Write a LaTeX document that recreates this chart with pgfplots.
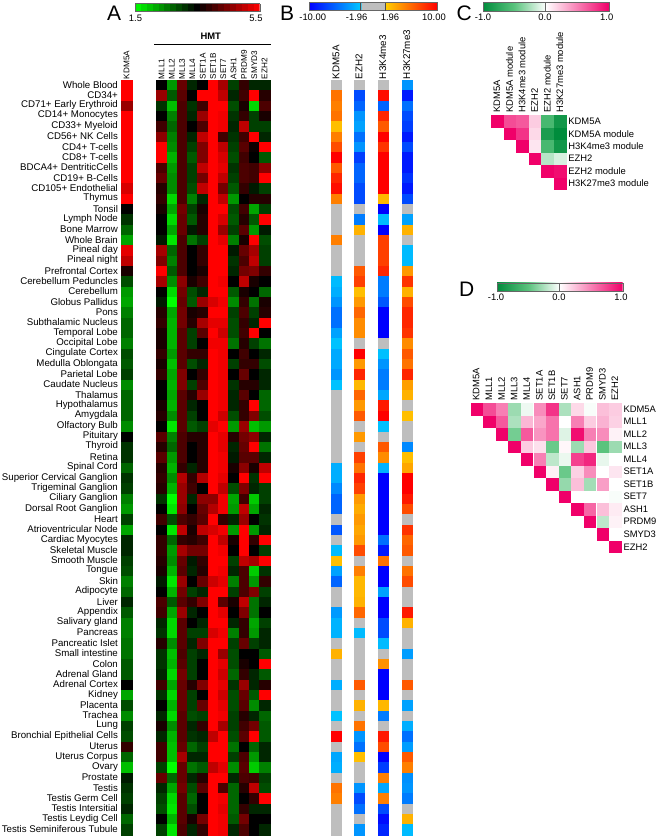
\documentclass[border=0pt]{standalone}
\usepackage{fontspec}
\setmainfont{Liberation Sans}
\usepackage{pgfplots}
\usepackage{pgfplotstable}
\pgfplotsset{compat=1.18}
\pgfplotsset{
  colormap={rg}{rgb255(0)=(0,255,0); rgb255(1)=(0,0,0); rgb255(2)=(255,0,0)},
  colormap={bo}{rgb255(0)=(0,0,255); rgb255(804)=(0,200,255); rgb255(805)=(190,190,190); rgb255(1195)=(190,190,190); rgb255(1196)=(255,205,0); rgb255(2000)=(255,0,0)},
  colormap={gp}{rgb255(0)=(0,140,60); rgb255(1)=(90,195,125); rgb255(2)=(255,255,255); rgb255(4)=(240,0,105)},
  heat/.style={anchor=north west, scale only axis, y dir=reverse,
    axis line style={draw=none}, major tick length=0pt, tick style={draw=none},
    clip=false, ticklabel style={inner sep=0pt, outer sep=0pt}},
  cbar/.style={anchor=north west, scale only axis, hide axis, colorbar horizontal,
    xmin=0, xmax=1, ymin=0, ymax=1},
  cbarst/.style={at={(0,0)}, anchor=south west, scale only axis, xtick=\empty, ytick=\empty,
    axis line style={draw=black!60, line width=0.4pt}},
  cell/.style={scatter, only marks, mark=square*, mark size=#1,
    scatter/use mapped color={draw=mapped color, fill=mapped color},
    mark options={line width=0.1pt}, scatter src=explicit},
}
% Panel A: KDM5A, MLL1, MLL2, MLL3, MLL4, SET1A, SET1B, SET7, ASH1, PRDM9, SMYD3, EZH2
\pgfplotstableread[header=false]{
5.5 3.5 2.3 4.3 3.2 3.5 5.5 4.8 3.0 3.9 3.2 3.2
5.5 4.7 2.8 4.2 3.5 5.5 5.5 5.0 3.2 4.0 5.5 3.8
4.7 3.1 2.0 4.1 3.1 4.0 5.5 5.5 2.9 3.7 1.8 4.1
5.5 3.5 2.5 4.1 3.2 4.7 5.5 5.4 3.1 3.9 3.0 3.7
5.5 4.0 2.7 4.1 3.5 4.1 5.5 5.4 3.2 5.0 3.0 3.0
5.5 4.6 2.5 4.1 3.2 5.0 5.5 4.0 3.1 4.0 5.5 3.2
5.5 5.5 2.4 4.1 3.0 4.5 5.5 5.0 3.0 4.2 3.6 5.5
5.5 5.5 2.1 4.1 2.8 4.5 5.5 5.2 2.9 4.0 3.5 2.8
5.5 4.1 2.3 4.1 3.0 5.0 5.5 5.3 3.1 4.1 4.0 4.6
5.5 4.3 2.4 4.1 3.0 4.4 5.5 5.0 3.0 4.1 4.0 5.5
5.2 3.8 2.4 4.1 2.9 5.0 5.5 4.4 2.8 3.9 3.3 3.0
5.5 3.9 1.8 4.1 2.5 3.2 5.5 5.0 2.3 3.5 3.8 3.8
3.5 3.7 2.2 4.4 3.0 3.7 5.5 5.5 2.9 4.0 2.2 3.0
3.1 3.5 1.8 4.3 2.8 3.8 5.5 5.2 2.8 3.8 2.8 5.5
2.7 3.5 2.2 4.3 3.3 3.8 5.5 4.7 3.0 4.2 2.3 3.3
2.2 3.3 1.7 4.1 2.6 3.0 5.5 5.3 2.5 3.7 5.5 2.9
5.3 4.8 2.7 4.1 3.5 3.9 5.5 5.5 3.3 4.3 4.8 3.0
5.0 4.5 2.5 4.1 3.5 3.9 5.5 5.5 3.1 4.1 5.0 3.0
3.7 5.5 2.8 4.1 3.5 3.7 5.5 5.5 3.2 4.4 4.5 3.9
2.9 4.8 2.4 4.6 3.7 4.0 5.5 5.4 3.5 5.0 3.7 3.5
2.3 3.5 1.8 4.4 2.9 3.2 5.5 5.5 2.8 3.7 3.5 2.7
2.2 3.3 1.5 4.3 2.8 4.7 5.2 5.4 2.4 3.9 2.6 3.7
2.5 3.8 2.2 4.4 3.7 3.8 5.5 5.5 3.0 4.1 3.0 3.8
2.7 3.9 2.1 4.4 3.8 4.8 5.3 5.3 2.9 3.9 3.2 5.5
2.7 3.7 2.1 4.2 3.0 4.2 5.5 5.1 2.9 4.0 5.5 3.5
2.5 3.7 2.1 4.2 3.0 3.5 5.4 5.4 2.6 3.8 3.0 2.6
2.9 3.9 2.3 4.2 3.9 3.9 5.5 5.4 3.5 4.0 3.5 3.2
2.8 3.7 2.0 4.2 2.9 3.2 5.5 5.4 3.0 3.9 3.9 2.9
3.0 3.9 2.2 4.5 3.5 3.9 5.5 5.4 3.5 4.3 3.5 3.2
2.4 3.5 2.1 4.5 3.0 4.1 5.5 5.4 3.1 3.8 3.8 3.2
2.7 3.5 2.2 4.2 3.8 4.7 5.5 5.4 3.2 4.2 3.5 2.7
2.7 3.7 2.1 4.2 3.2 3.5 5.5 5.4 3.2 3.9 5.5 2.7
2.7 3.8 2.4 4.2 3.0 3.5 5.5 5.1 2.9 3.9 4.5 2.9
2.4 3.5 1.7 4.2 2.8 3.0 5.3 5.5 2.3 4.7 2.0 2.3
3.5 4.2 2.5 4.1 3.8 3.8 5.5 5.3 3.8 4.4 4.6 3.2
3.1 3.8 2.7 4.1 3.5 3.8 5.5 5.3 3.2 4.3 5.5 2.6
3.1 4.2 2.3 4.1 3.5 3.8 5.5 5.4 3.3 4.2 4.2 3.2
2.7 3.8 2.1 3.9 3.2 3.8 5.5 5.4 3.7 4.6 3.7 5.0
3.1 3.9 2.4 4.9 3.9 4.9 5.5 5.3 3.5 5.5 3.1 5.5
3.0 3.8 2.1 4.7 4.0 3.5 5.5 5.0 2.9 4.5 3.2 3.0
2.5 3.1 1.5 4.7 3.2 4.6 4.6 5.4 2.2 4.0 1.9 3.0
2.3 3.5 1.7 4.6 3.5 4.3 4.9 5.4 2.3 5.0 2.2 3.2
3.0 4.0 2.9 4.1 3.9 4.2 5.5 3.9 3.2 4.7 3.5 3.1
2.2 3.5 1.7 5.0 3.7 5.0 5.2 5.4 2.3 5.5 2.3 3.2
3.2 3.9 2.7 3.9 3.8 4.0 5.5 5.0 3.7 5.5 3.9 5.5
3.2 3.9 2.3 4.8 4.4 4.4 5.5 5.4 3.5 5.5 3.5 3.0
3.0 3.8 2.4 4.3 3.3 3.9 5.5 5.5 3.0 5.0 4.8 5.5
2.9 3.7 2.1 4.2 3.2 3.8 5.5 5.4 3.2 4.1 1.9 3.1
2.5 3.3 1.7 4.7 3.5 4.3 5.1 5.3 2.5 4.1 2.3 3.9
2.7 3.5 2.1 4.4 3.0 3.2 5.5 5.5 3.0 4.1 4.5 3.0
3.2 4.1 2.8 4.2 3.9 4.5 5.5 4.2 3.7 5.0 2.6 3.2
2.8 4.0 2.2 4.7 3.2 3.5 5.5 5.3 3.5 4.5 2.6 3.5
2.5 3.2 1.8 4.2 3.5 3.2 5.5 5.5 3.2 3.9 2.2 3.0
2.5 3.1 1.8 4.2 3.0 3.0 5.2 5.4 2.5 3.9 2.3 3.2
2.6 3.8 2.4 4.2 3.2 4.5 5.5 5.5 3.0 4.3 3.0 3.2
2.6 3.1 2.0 4.1 3.0 3.2 5.5 4.7 2.9 3.5 3.5 2.8
2.8 3.1 2.1 4.2 3.0 3.5 5.5 5.3 2.9 3.7 3.5 5.5
2.8 3.2 1.8 4.4 3.0 3.5 5.5 5.1 2.7 3.9 3.2 2.8
3.5 4.0 2.2 4.3 3.8 4.5 5.5 5.3 3.1 4.7 3.2 3.8
2.2 3.1 1.8 4.3 3.0 3.5 5.5 5.1 2.9 4.3 2.8 5.5
2.9 3.5 2.1 4.3 3.0 4.3 5.5 5.3 2.9 4.2 2.4 3.2
2.4 3.2 1.8 4.2 2.9 3.0 5.5 5.4 3.0 3.8 3.2 2.7
3.0 3.7 2.4 4.2 3.2 3.9 5.5 4.8 3.0 4.0 4.4 2.8
2.9 3.2 2.1 4.2 3.1 3.2 5.0 5.5 2.9 4.2 5.5 2.8
3.9 4.0 2.0 4.3 2.7 3.0 5.5 5.5 2.6 3.5 2.7 3.2
2.7 4.0 2.0 4.8 3.2 3.2 5.5 5.5 3.0 4.1 2.3 3.2
2.0 3.0 1.5 4.3 2.6 2.8 5.0 5.3 2.4 4.2 1.9 2.5
3.3 4.3 2.7 4.3 3.2 3.8 5.5 5.5 3.2 4.1 4.0 3.0
3.1 3.2 2.2 4.4 2.9 4.2 5.5 4.1 2.7 3.8 5.0 2.9
3.0 3.0 1.8 4.2 2.7 3.5 5.5 5.4 2.7 3.5 3.9 5.5
3.2 2.9 1.7 4.2 2.9 3.5 5.5 5.3 2.7 3.9 3.2 3.2
2.7 3.5 2.1 4.2 3.7 4.4 5.5 5.4 2.8 4.4 3.5 3.5
3.0 3.0 1.7 4.1 3.2 3.9 5.5 5.4 3.2 4.1 3.5 3.2
}\tabA
% Panel B: KDM5A, EZH2, H3K4me3, H3K27me3
\pgfplotstableread[header=false]{
0 0 0 -4
5.5 -7 9.5 -9
5 -6 -6 -5.5
5.5 -4 8.5 -7
2.5 -3.5 6.5 -7.5
5 -5.5 10 -9
7 -4 8 -7
10 -7.5 10 -9
6.5 -6 10 -9
8.5 -6 10 -8
9.5 -7 10 -9
5 -7 2.8 -7
0 0 -10 0
0 -5 -2.5 -3.5
0 3 -10 3
5 0 7.5 0
0 0 7.5 -2.5
0 0 7.5 -2.5
0 6.5 8.5 4
-2.5 7.5 -5 8
-3 2.5 -5 3
-4 4 -6.5 7
-5.5 6 -10 8.5
-5.5 4.5 -10 8.5
-3.5 4.5 -10 8
-2.2 0 0 4.5
-3.2 10 -2.3 6.5
-3.2 4 -4 5.5
-4 8.5 -5 8.5
-2.2 2.8 -5 3.8
0 6 -3.3 3
0 4 9 0
0 6.5 10 2.5
0 0 -2.3 0
0 4 0 0
0 0 6.5 -4.5
0 7.5 4.5 2.5
-3 5.5 -2.8 3.5
-3 8.5 -10 10
-4.5 7.5 -10 10
-6 4 -10 9
-6 3.3 -10 7
0 4 -10 0
-6.5 3.5 -10 8
0 4 -5.5 6
-2.5 7 -9 6.5
2.5 0 5.5 0
-3.5 5 -10 5.5
-6 2.8 -10 7
0 2.8 -3.5 0
0 3 -10 0
-3.8 6 -10 9
-2.8 0 -7 3
-2.8 -2.5 -7 0
0 0 -2.5 0
3 0 0 -3.7
0 0 4.3 0
0 0 -10 0
-3 6.5 -10 6.5
0 0 -10 0
0 3 2.8 -3.5
-2.2 0 -5 0
0 5.5 0 -3
10 -4 9 -5.5
0 -5.5 7 -3.7
-3.3 2.5 -10 6.5
-3 0 -7.5 5
0 0 5 -4.2
5.5 -4 -3.3 -4
5 -7 5 -5
0 -5.5 -7 0
0 0 -9.5 3
0 -4 -8.5 -2.5
}\tabB
% Panel C: column, row, correlation
\pgfplotstableread{
x y v
0 0 1
1 0 .7
2 0 .65
3 0 .2
4 0 -.6
5 0 -.9
1 1 1
2 1 .8
3 1 .15
4 1 -.85
5 1 -1
2 2 1
3 2 .1
4 2 -.6
5 2 -.9
3 3 1
4 3 -.22
5 3 -.12
4 4 1
5 4 .95
5 5 1
}\tabC
% Panel D: column, row, correlation
\pgfplotstableread{
x y v
0 0 1
1 0 .7
2 0 .5
3 0 -.3
4 0 -.05
5 0 .45
6 0 .8
7 0 -.25
8 0 .15
9 0 -.02
10 0 .25
11 0 .2
1 1 1
2 1 .65
3 1 -.25
4 1 .28
5 1 .35
6 1 .55
7 1 0
8 1 .5
9 1 .2
10 1 .3
11 1 .18
2 2 1
3 2 -.42
4 2 .65
5 2 .42
6 2 .55
7 2 -.1
8 2 .95
9 2 .5
10 2 .45
11 2 .05
3 3 1
4 3 .2
5 3 .12
6 3 -.45
7 3 .03
8 3 -.3
9 3 .22
10 3 -.5
11 3 -.3
4 4 1
5 4 .5
6 4 -.2
7 4 -.06
8 4 .75
9 4 .85
10 4 -.07
11 4 0
5 5 1
6 5 .06
7 5 -.45
8 5 .18
9 5 .45
10 5 0
11 5 .1
6 6 1
7 6 -.32
8 6 .25
9 6 -.28
10 6 .38
11 6 0
7 7 1
8 7 0
9 7 0
10 7 0
11 7 -.02
8 8 1
9 8 .6
10 8 .25
11 8 .08
9 9 1
10 9 -.2
11 9 .05
10 10 1
11 11 1
}\tabD
\newcommand{\fs}[1]{\fontsize{#1}{#1}\selectfont}
\begin{document}
\begin{tikzpicture}
\path[use as bounding box] (0,0) rectangle (661pt,-840pt);

% colour bars
\begin{axis}[cbar, at={(135pt,-3.7pt)}, width=124.7pt, height=8pt,
  colormap name=rg, point meta min=1.5, point meta max=5.5, colorbar sampled,
  colorbar style={cbarst, width=124.7pt, height=8pt, samples=22}]
\addplot[draw=none] coordinates {(0,0)(1,1)};
\end{axis}
\begin{axis}[cbar, at={(309.3pt,-2.7pt)}, width=127.7pt, height=8pt,
  colormap name=bo, point meta min=-10, point meta max=10,
  colorbar style={cbarst, width=127.7pt, height=8pt}]
\addplot[draw=none] coordinates {(0,0)(1,1)};
\end{axis}
\draw[black!70, line width=0.5pt] (360.7pt,-2.7pt) -- (360.7pt,-10.7pt) (385.3pt,-2.7pt) -- (385.3pt,-10.7pt);
\begin{axis}[cbar, at={(482.7pt,-2.7pt)}, width=126.3pt, height=8.4pt,
  colormap name=gp, point meta min=-1, point meta max=1,
  colorbar style={cbarst, width=126.3pt, height=8.4pt}]
\addplot[draw=none] coordinates {(0,0)(1,1)};
\end{axis}
\draw[black!60, line width=0.5pt] (545.3pt,-2.7pt) -- (545.3pt,-11.1pt);
\begin{axis}[cbar, at={(496.7pt,-282.7pt)}, width=126pt, height=8.3pt,
  colormap name=gp, point meta min=-1, point meta max=1,
  colorbar style={cbarst, width=126pt, height=8.3pt}]
\addplot[draw=none] coordinates {(0,0)(1,1)};
\end{axis}
\draw[black!60, line width=0.5pt] (559.3pt,-282.7pt) -- (559.3pt,-291pt);

% Panel A, KDM5A
\begin{axis}[heat, at={(121.3pt,-80pt)}, width=10.34pt, height=754.8pt,
  xmin=-0.5, xmax=0.5, ymin=-0.5, ymax=72.5,
  colormap name=rg, point meta min=1.5, point meta max=5.5,
  xtick={0}, xticklabels={KDM5A}, xticklabel pos=upper,
  x tick label style={rotate=90, anchor=west, font=\fs{8.2}, xshift=1pt},
  ytick={0,...,72}, y tick label style={font=\fs{9.7}, anchor=east, xshift=-3.4pt, yshift=0.6pt},
  yticklabels={Whole Blood,CD34+,CD71+ Early Erythroid,CD14+ Monocytes,CD33+ Myeloid,CD56+ NK Cells,CD4+ T-cells,CD8+ T-cells,BDCA4+ DentriticCells,CD19+ B-Cells,CD105+ Endothelial,Thymus,Tonsil,Lymph Node,Bone Marrow,Whole Brain,Pineal day,Pineal night,Prefrontal Cortex,Cerebellum Peduncles,Cerebellum,Globus Pallidus,Pons,Subthalamic Nucleus,Temporal Lobe,Occipital Lobe,Cingulate Cortex,Medulla Oblongata,Parietal Lobe,Caudate Nucleus,Thalamus,Hypothalamus,Amygdala,Olfactory Bulb,Pituitary,Thyroid,Retina,Spinal Cord,Superior Cervical Ganglion,Trigeminal Ganglion,Ciliary Ganglion,Dorsal Root Ganglion,Heart,Atrioventricular Node,Cardiac Myocytes,Skeletal Muscle,Smooth Muscle,Tongue,Skin,Adipocyte,Liver,Appendix,Salivary gland,Pancreas,Pancreatic Islet,Small intestine,Colon,Adrenal Gland,Adrenal Cortex,Kidney,Placenta,Trachea,Lung,Bronchial Epithelial Cells,Uterus,Uterus Corpus,Ovary,Prostate,Testis,Testis Germ Cell,Testis Intersitial,Testis Leydig Cell,Testis Seminiferous Tubule}]
\addplot[cell=5.17pt] table[x expr=0, y expr=\coordindex, meta index=0] {\tabA};
\end{axis}

% Panel A, HMT
\begin{axis}[heat, at={(156.3pt,-80pt)}, width=113.4pt, height=754.8pt,
  xmin=0.5, xmax=11.5, ymin=-0.5, ymax=72.5,
  colormap name=rg, point meta min=1.5, point meta max=5.5,
  ytick=\empty, xtick={1,...,11}, xticklabel pos=upper,
  xticklabels={MLL1,MLL2,MLL3,MLL4,SET1A,SET1B,SET7,ASH1,PRDM9,SMYD3,EZH2},
  x tick label style={rotate=90, anchor=west, font=\fs{8.2}, xshift=1pt}]
\pgfplotsinvokeforeach{1,...,11}{
\addplot[cell=5.17pt] table[x expr=#1, y expr=\coordindex, meta index=#1] {\tabA};
}
\end{axis}

% Panel B
\begin{axis}[heat, at={(331pt,-80pt)}, width=81pt, height=754.8pt,
  xmin=0, xmax=81, ymin=-0.5, ymax=72.5,
  colormap name=bo, point meta min=-10, point meta max=10,
  ytick=\empty, xtick={5.15,27.85,51.85,75.85}, xticklabel pos=upper,
  xticklabels={KDM5A,EZH2,H3K4me3,H3K27me3},
  x tick label style={rotate=90, anchor=west, font=\fs{9.8}, xshift=1pt}]
\addplot[cell=5.17pt] table[x expr=5.15, y expr=\coordindex, meta index=0] {\tabB};
\addplot[cell=5.17pt] table[x expr=27.85, y expr=\coordindex, meta index=1] {\tabB};
\addplot[cell=5.17pt] table[x expr=51.85, y expr=\coordindex, meta index=2] {\tabB};
\addplot[cell=5.17pt] table[x expr=75.85, y expr=\coordindex, meta index=3] {\tabB};
\end{axis}

% Panel C
\begin{axis}[heat, at={(490.7pt,-115pt)}, width=75.4pt, height=74.7pt,
  xmin=-0.5, xmax=5.5, ymin=-0.5, ymax=5.5,
  colormap name=gp, point meta min=-1, point meta max=1,
  xtick={0,...,5}, xticklabel pos=upper, ytick={0,...,5}, yticklabel pos=right,
  xticklabels={KDM5A,KDM5A module,H3K4me3 module,EZH2,EZH2 module,H3K27me3 module},
  yticklabels={KDM5A,KDM5A module,H3K4me3 module,EZH2,EZH2 module,H3K27me3 module},
  x tick label style={rotate=90, anchor=west, font=\fs{9.4}, xshift=2.5pt},
  y tick label style={anchor=west, font=\fs{9.4}, xshift=2.3pt}]
\addplot[cell=5.75pt] table[x=x, y=y, meta=v] {\tabC};
\end{axis}

% Panel D
\begin{axis}[heat, at={(470pt,-403pt)}, width=151.2pt, height=150pt,
  xmin=-0.5, xmax=11.5, ymin=-0.5, ymax=11.5,
  colormap name=gp, point meta min=-1, point meta max=1,
  xtick={0,...,11}, xticklabel pos=upper, ytick={0,...,11}, yticklabel pos=right,
  xticklabels={KDM5A,MLL1,MLL2,MLL3,MLL4,SET1A,SET1B,SET7,ASH1,PRDM9,SMYD3,EZH2},
  yticklabels={KDM5A,MLL1,MLL2,MLL3,MLL4,SET1A,SET1B,SET7,ASH1,PRDM9,SMYD3,EZH2},
  x tick label style={rotate=90, anchor=west, font=\fs{9.4}, xshift=2.5pt},
  y tick label style={anchor=west, font=\fs{9.4}, xshift=2.3pt}]
\addplot[cell=5.75pt] table[x=x, y=y, meta=v] {\tabD};
\end{axis}

% text
\tikzset{lb/.style={inner sep=0pt, anchor=base}, pan/.style={inner sep=0pt, anchor=base west, font=\fs{21}}}
\node[pan] at (107pt,-21pt) {A};
\node[pan] at (280pt,-21pt) {B};
\node[pan] at (456.5pt,-20.5pt) {C};
\node[pan] at (459pt,-296.7pt) {D};
\node[lb, font=\fs{9.4}] at (135.5pt,-21.5pt) {1.5};
\node[lb, font=\fs{9.4}] at (256pt,-21.5pt) {5.5};
\node[lb, font=\fs{9.4}] at (312.7pt,-20.7pt) {-10.00};
\node[lb, font=\fs{9.4}] at (356.7pt,-20.7pt) {-1.96};
\node[lb, font=\fs{9.4}] at (390pt,-20.7pt) {1.96};
\node[lb, font=\fs{9.4}] at (434pt,-20.7pt) {10.00};
\node[lb, font=\fs{9.4}] at (483pt,-20.7pt) {-1.0};
\node[lb, font=\fs{9.4}] at (545pt,-20.7pt) {0.0};
\node[lb, font=\fs{9.4}] at (606.7pt,-20.7pt) {1.0};
\node[lb, font=\fs{9.4}] at (496pt,-300.7pt) {-1.0};
\node[lb, font=\fs{9.4}] at (559pt,-300.7pt) {0.0};
\node[lb, font=\fs{9.4}] at (621pt,-300.7pt) {1.0};
\node[inner sep=0pt, font=\fs{9.4}\bfseries] at (210.7pt,-36.7pt) {HMT};
\draw[black, line width=0.8pt] (154pt,-44.3pt) -- (271.3pt,-44.3pt);
\end{tikzpicture}
\end{document}
